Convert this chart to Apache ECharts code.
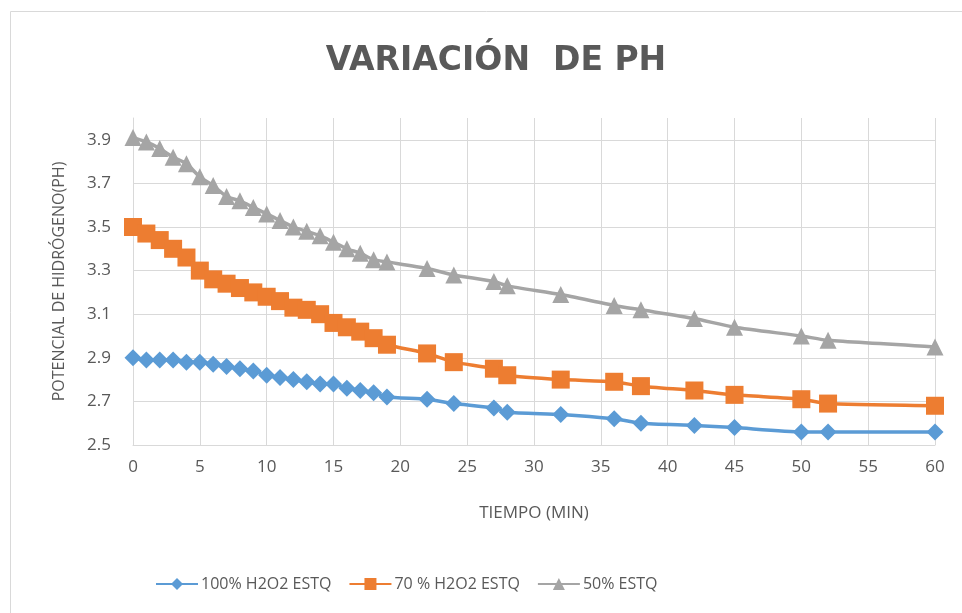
<!DOCTYPE html>
<html>
<head>
<meta charset="utf-8">
<script src="https://cdn.jsdelivr.net/npm/echarts@6/dist/echarts.min.js"></script>
<style>
html,body{margin:0;padding:0;background:#fff;}
#chart{width:962px;height:613px;}
</style>
</head>
<body>
<div id="chart"></div>
<script>
var tiempo = [0,1,2,3,4,5,6,7,8,9,10,11,12,13,14,15,16,17,18,19,22,24,27,28,32,36,38,42,45,50,52,60];
var ph100 = [2.90,2.89,2.89,2.89,2.88,2.88,2.87,2.86,2.85,2.84,2.82,2.81,2.80,2.79,2.78,2.78,2.76,2.75,2.74,2.72,2.71,2.69,2.67,2.65,2.64,2.62,2.60,2.59,2.58,2.56,2.56,2.56];
var ph70 = [3.50,3.47,3.44,3.40,3.36,3.30,3.26,3.24,3.22,3.20,3.18,3.16,3.13,3.12,3.10,3.06,3.04,3.02,2.99,2.96,2.92,2.88,2.85,2.82,2.80,2.79,2.77,2.75,2.73,2.71,2.69,2.68];
var ph50 = [3.91,3.89,3.86,3.82,3.79,3.73,3.69,3.64,3.62,3.59,3.56,3.53,3.50,3.48,3.46,3.43,3.40,3.38,3.35,3.34,3.31,3.28,3.25,3.23,3.19,3.14,3.12,3.08,3.04,3.00,2.98,2.95];
var nombres = ['100% H2O2 ESTQ','70 % H2O2 ESTQ','50% ESTQ'];

function pares(vals){
    var out = [];
    for(var i=0;i<tiempo.length;i++){
        out.push([tiempo[i], vals[i]]);
    }
    return out;
}

var font = '"Open Sans", sans-serif';
var myChart = echarts.init(document.getElementById('chart'));
myChart.setOption({
    animation: false,
    color: ['#5b9bd5','#ed7d31','#a5a5a5'],
    graphic: [{
        type: 'rect',
        shape: {x: 10.5, y: 11.5, width: 980, height: 640},
        style: {fill: 'none', stroke: '#d9d9d9', lineWidth: 1}
    }],
    title: {
        text: 'VARIACIÓN  DE PH',
        left: 491,
        textAlign: 'center',
        top: 40,
        textStyle: {fontFamily: '"DejaVu Sans", sans-serif', fontSize: 33, fontWeight: 'bold', color: '#595959'}
    },
    legend: {
        left: 150,
        top: 571,
        itemWidth: 42,
        itemHeight: 15,
        itemGap: 17,
        textStyle: {fontFamily: font, fontSize: 16, color: '#595959', padding: [0, 0, 0, -2]},
        data: nombres
    },
    grid: {left: 133, right: 27, top: 118, bottom: 168},
    xAxis: {
        type: 'value',
        min: 0, max: 60, interval: 5,
        name: 'TIEMPO (MIN)',
        nameLocation: 'middle',
        nameGap: 60,
        nameTextStyle: {fontFamily: font, fontSize: 17, color: '#595959'},
        axisLine: {show: true, lineStyle: {color: '#d9d9d9', width: 1}},
        axisTick: {show: false},
        axisLabel: {fontFamily: font, fontSize: 17, color: '#595959', margin: 14},
        splitLine: {show: true, lineStyle: {color: '#d9d9d9', width: 1}}
    },
    yAxis: {
        type: 'value',
        min: 2.5, max: 4.0, interval: 0.2,
        name: 'POTENCIAL DE HIDRÓGENO(PH)',
        nameLocation: 'middle',
        nameGap: 66,
        nameTextStyle: {fontFamily: font, fontSize: 16, color: '#595959'},
        axisLine: {show: true, lineStyle: {color: '#d9d9d9', width: 1}},
        axisTick: {show: false},
        axisLabel: {fontFamily: font, fontSize: 17, color: '#595959', margin: 22, showMaxLabel: false,
            formatter: function(v){ return v.toFixed(1); }},
        splitLine: {show: true, showMaxLine: false, lineStyle: {color: '#d9d9d9', width: 1}}
    },
    series: [
        {
            name: nombres[0], type: 'line', data: pares(ph100),
            symbol: 'diamond', symbolSize: 17, smooth: 0.2,
            lineStyle: {width: 3.5}
        },
        {
            name: nombres[1], type: 'line', data: pares(ph70),
            symbol: 'rect', symbolSize: 18, smooth: 0.2,
            lineStyle: {width: 3.5}
        },
        {
            name: nombres[2], type: 'line', data: pares(ph50),
            symbol: 'triangle', symbolSize: 17, smooth: 0.2,
            lineStyle: {width: 3.5}
        }
    ]
});
</script>
</body>
</html>
